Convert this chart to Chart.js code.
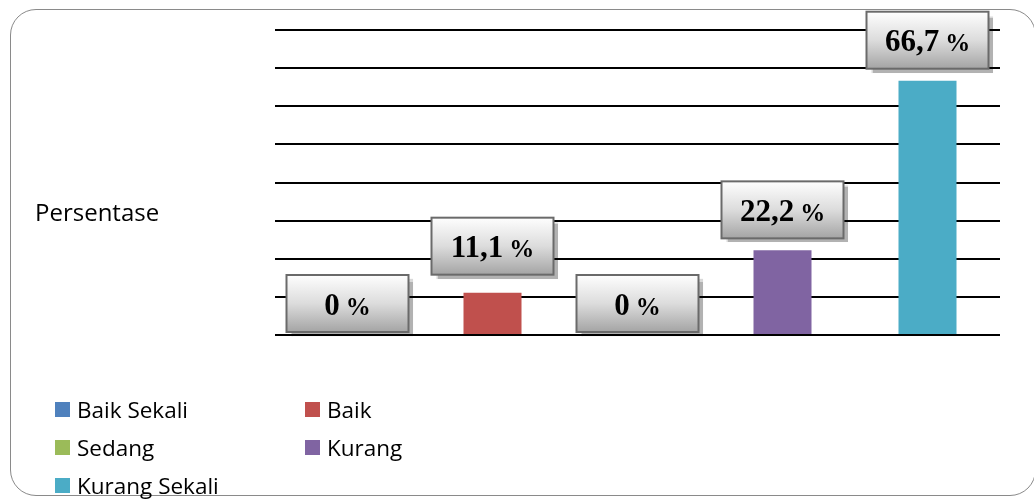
<!DOCTYPE html>
<html>
<head>
<meta charset="utf-8">
<script src="https://cdn.jsdelivr.net/npm/chart.js@4"></script>
<style>
  body { margin: 0; background: #fff; }
  #wrap { position: relative; width: 1034px; height: 499px; overflow: hidden; }
  #frame {
    position: absolute; left: 10px; top: 9px; width: 1024px; height: 485px;
    border: 1.5px solid #8a8a8a; border-radius: 26px;
  }
  #chart { position: absolute; left: 0; top: 0; }
  #ytitle {
    position: absolute; left: 35px; top: 195px;
    font: 24px "Open Sans", sans-serif; color: #000;
  }
  #legend {
    position: absolute; left: 55px; top: 394px;
    display: grid; grid-template-columns: 250px 200px; row-gap: 8px;
    font: 22.5px "Open Sans", sans-serif; color: #000;
  }
  .item { display: flex; align-items: center; height: 30px; }
  .sw { width: 15px; height: 15px; margin-right: 7px; }
</style>
</head>
<body>
<div id="wrap">
  <div id="frame"></div>
  <canvas id="chart" width="1034" height="499"></canvas>
  <div id="ytitle">Persentase</div>
  <div id="legend"></div>
</div>
<script>
// Data
const categories = ['Baik Sekali', 'Baik', 'Sedang', 'Kurang', 'Kurang Sekali'];
const persentase = [0, 11.1, 0, 22.2, 66.7];
const barColors = ['#4F81BD', '#C0504D', '#9BBB59', '#8064A2', '#4BACC6'];
const yTicks = [0, 10, 20, 30, 40, 50, 60, 70, 80];

// gap between bar top and label box (px), per category
const labelGap = [3, 18, 3, 12, 12];

// Label boxes like the Excel callouts
const boxLabels = {
    id: 'boxLabels',
    afterDatasetsDraw(chart) {
        const ctx = chart.ctx;
        const meta = chart.getDatasetMeta(0);
        meta.data.forEach((bar, i) => {
            const w = 122, h = 57;
            const x = bar.x - w / 2;
            const y = bar.y - labelGap[i] - h;

            ctx.save();
            ctx.shadowColor = 'rgba(0, 0, 0, 0.3)';
            ctx.shadowOffsetX = 4;
            ctx.shadowOffsetY = 4;
            ctx.shadowBlur = 1;
            const grad = ctx.createLinearGradient(0, y, 0, y + h);
            grad.addColorStop(0, '#fefefe');
            grad.addColorStop(0.5, '#dcdcdc');
            grad.addColorStop(1, '#a4a4a4');
            ctx.fillStyle = grad;
            ctx.fillRect(x, y, w, h);
            ctx.restore();

            ctx.save();
            ctx.strokeStyle = '#6a6a6a';
            ctx.lineWidth = 2;
            ctx.strokeRect(x, y, w, h);

            const num = String(persentase[i]).replace('.', ',');
            ctx.fillStyle = '#000';
            ctx.textBaseline = 'alphabetic';
            ctx.font = 'bold 31px "Liberation Serif", serif';
            const nw = ctx.measureText(num).width + 6;
            ctx.font = 'bold 25px "Liberation Serif", serif';
            const pw = ctx.measureText('%').width;
            const sx = bar.x - (nw + pw) / 2;
            const by = y + h / 2 + 11;
            ctx.font = 'bold 31px "Liberation Serif", serif';
            ctx.fillText(num, sx, by);
            ctx.font = 'bold 25px "Liberation Serif", serif';
            ctx.fillText('%', sx + nw, by);
            ctx.restore();
        });
    }
};

new Chart(document.getElementById('chart'), {
    type: 'bar',
    data: {
        labels: categories,
        datasets: [{
            label: 'Persentase',
            data: persentase,
            backgroundColor: barColors,
            categoryPercentage: 0.8,
            barPercentage: 0.5
        }]
    },
    options: {
        responsive: false,
        animation: false,
        layout: {
            padding: { left: 275, right: 34, top: 30, bottom: 164 }
        },
        plugins: {
            legend: { display: false },
            tooltip: { enabled: false }
        },
        scales: {
            x: {
                ticks: { display: false },
                grid: { display: false },
                border: { display: false },
                afterFit: (s) => { s.height = 0; }
            },
            y: {
                min: 0,
                max: 80,
                afterBuildTicks: (s) => { s.ticks = yTicks.map(v => ({ value: v })); },
                ticks: { display: false },
                grid: { color: '#000', lineWidth: 2, drawTicks: false },
                border: { display: false },
                afterFit: (s) => { s.width = 0; }
            }
        }
    },
    plugins: [boxLabels]
});

// Legend
const legend = document.getElementById('legend');
categories.forEach((c, i) => {
    const item = document.createElement('div');
    item.className = 'item';
    item.innerHTML = '<span class="sw" style="background:' + barColors[i] + '"></span>' + c;
    legend.appendChild(item);
});
</script>
</body>
</html>
